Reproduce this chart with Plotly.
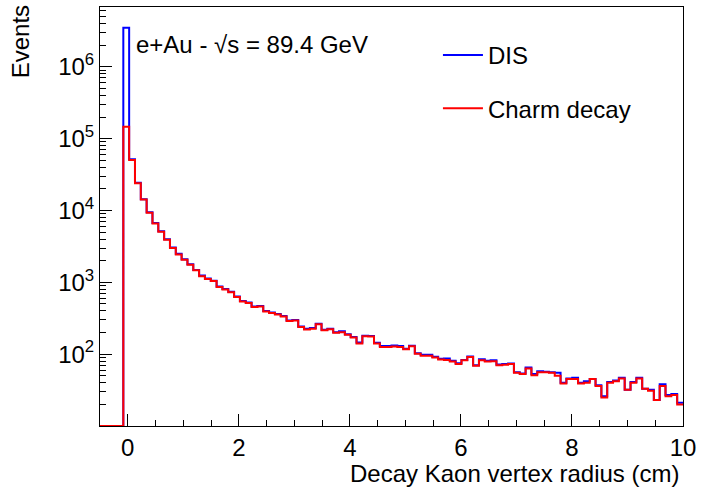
import numpy as np
import plotly.graph_objects as go

# Histogram definition: 100 bins from -0.5 to 10 cm
x_min, x_max, n_bins = -0.5, 10.0, 100
y_axis_min = 10  # lower edge of the log axis (empty bins drawn there)

dis_counts = [
    0, 0, 0, 0,
    3500000, 51500, 24300, 14400, 9450, 6700, 5160, 3980, 3060, 2490, 2100, 1790, 1490, 1240, 1130, 1055,
    875, 805, 738, 635, 550, 525, 462, 468, 399, 381,
    362, 340, 295, 299, 243, 226, 231, 265, 219, 226,
    202, 208, 190, 174, 145, 181, 179, 144, 130, 130,
    132, 130, 119, 131, 103, 98, 98, 92, 86, 87,
    81, 75, 83, 93, 70, 85, 81, 82, 72, 73,
    74, 56, 54, 65, 53, 58, 57, 56, 55, 40,
    46, 47, 40, 42, 45, 37, 26, 41, 43, 47,
    32, 41, 47, 33, 32, 23, 38, 27, 28, 21,
]

charm_counts = [
    0, 0, 0, 0,
    147000, 50600, 23900, 14200, 9310, 6590, 5080, 3920, 3010, 2450, 2070, 1760, 1470, 1220, 1110, 1040,
    860, 792, 726, 625, 540, 516, 454, 460, 392, 375,
    356, 334, 290, 294, 239, 220, 225, 261, 215, 222,
    198, 202, 187, 171, 141, 178, 176, 141, 126, 126,
    128, 126, 117, 129, 101, 95, 95, 90, 84, 83,
    79, 73, 82, 91, 69, 82, 79, 80, 70, 71,
    73, 55, 53, 63, 51, 56, 56, 55, 50, 39,
    45, 45, 39, 40, 45, 36, 25, 40, 42, 46,
    32, 40, 46, 33, 31, 23, 36, 26, 27, 20,
]

series_names = ["DIS", "Charm decay"]
series_colors = ["#0000ff", "#ff0000"]

y_tick_vals = [1e2, 1e3, 1e4, 1e5, 1e6]
y_tick_text = ["10<sup>2</sup>", "10<sup>3</sup>", "10<sup>4</sup>", "10<sup>5</sup>", "10<sup>6</sup>"]
# minor ticks at 2..9 x each decade
y_minor_vals = [m * 10 ** d for d in range(1, 7) for m in range(2, 10)]

edges = np.linspace(x_min, x_max, n_bins + 1)


def step_points(counts):
    c = np.asarray(counts, dtype=float)
    c = np.where(c > 0, c, y_axis_min)
    return edges, np.append(c, c[-1])


fig = go.Figure()
for name, counts, color in zip(series_names, [dis_counts, charm_counts], series_colors):
    xs, ys = step_points(counts)
    fig.add_trace(go.Scatter(
        x=xs, y=ys, mode="lines", name=name, legendgroup=name,
        line=dict(color=color, width=2, shape="hv"), cliponaxis=False,
    ))

FONT = "Liberation Sans, Arial, Helvetica, sans-serif"
FS = 24

fig.update_layout(
    width=702, height=490,
    margin=dict(l=100, r=12, t=6, b=64),
    paper_bgcolor="white", plot_bgcolor="white",
    font=dict(family=FONT, size=FS, color="black"),
    showlegend=True,
    legend=dict(
        x=(442 - 100) / 590, y=1 - (32 - 6) / 420, xanchor="left", yanchor="top",
        bgcolor="rgba(0,0,0,0)", font=dict(size=FS), tracegroupgap=19,
        itemwidth=40,
    ),
    xaxis=dict(
        range=[x_min, x_max], showgrid=False, zeroline=False,
        showline=True, linecolor="black", linewidth=1, mirror=True,
        ticks="inside", ticklen=12, tickwidth=1, tickcolor="black",
        tickmode="linear", tick0=0, dtick=2,
        ticklabeloverflow="allow", layer="below traces",
        minor=dict(ticks="inside", ticklen=6, tickwidth=1, tickcolor="black",
                   tickmode="linear", dtick=0.5, tick0=0, showgrid=False),
        tickfont=dict(size=FS),
    ),
    yaxis=dict(
        type="log", range=[1, 6.833], showgrid=False, zeroline=False,
        showline=True, linecolor="black", linewidth=1, mirror=True,
        ticks="inside", ticklen=12, tickwidth=1, tickcolor="black",
        tickmode="array", tickvals=y_tick_vals, ticktext=y_tick_text,
        layer="below traces",
        minor=dict(ticks="inside", ticklen=6, tickwidth=1, tickcolor="black",
                   tickmode="array", tickvals=y_minor_vals, showgrid=False),
        tickfont=dict(size=FS),
    ),
    annotations=[
        dict(text="e+Au - \u221As = 89.4 GeV", xref="paper", yref="paper",
             x=(134 - 100) / 590, y=1 - (44 - 6) / 420, xanchor="left", yanchor="middle",
             showarrow=False, font=dict(size=FS)),
        dict(text="Events", xref="paper", yref="paper", textangle=-90,
             x=(19 - 100) / 590, y=1.01, xanchor="center", yanchor="top",
             showarrow=False, font=dict(size=FS)),
        dict(text="Decay Kaon vertex radius (cm)", xref="paper", yref="paper",
             x=(688 - 100) / 590, y=-(474 - 426) / 420, xanchor="right", yanchor="middle",
             showarrow=False, font=dict(size=FS)),
    ],
)

fig.write_html("out.html")
